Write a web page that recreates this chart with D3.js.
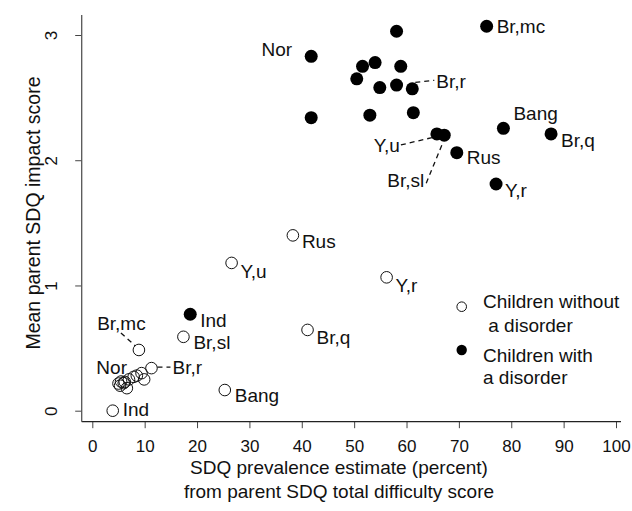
<!DOCTYPE html>
<html><head><meta charset="utf-8">
<script src="https://cdn.jsdelivr.net/npm/d3@7"></script>
<style>body{margin:0;background:#fff}svg{display:block;font-family:"Liberation Sans",Arial,sans-serif}</style>
</head><body><svg id="c" width="632" height="511"></svg>
<script>
// ---- data ----
const withLabels = ["Br,mc","","Nor","","","","","","","Br,r","","","","Y,u","Br,sl","Bang","Br,q","Rus","Y,r","Ind"];
const withX = [75.3,58.1,41.8,51.6,54.0,58.9,50.5,54.9,58.1,61.1,41.8,53.0,61.3,65.8,67.2,78.5,87.6,69.6,77.1,18.7];
const withY = [3.07,3.03,2.83,2.75,2.78,2.75,2.65,2.58,2.60,2.57,2.34,2.36,2.38,2.21,2.20,2.255,2.21,2.06,1.81,0.77];
const withoutLabels = ["Rus","Y,u","Y,r","Br,q","Br,sl","Br,mc","Br,r","Bang","Ind","Nor","","","","","","","","","",""];
const withoutX = [38.3,26.6,56.2,41.1,17.4,8.9,11.3,25.3,3.9,5.0,5.5,6.0,5.3,6.6,7.0,7.9,8.5,9.4,9.9,6.2];
const withoutY = [1.40,1.18,1.065,0.645,0.59,0.485,0.34,0.165,0.0,0.217,0.233,0.22,0.20,0.18,0.25,0.27,0.28,0.30,0.25,0.23];
const xTicks = [0,10,20,30,40,50,60,70,80,90,100];
const yTicks = [0,1,2,3];
const xTitle = ["SDQ prevalence estimate (percent)","from parent SDQ total difficulty score"];
const yTitle = "Mean parent SDQ impact score";
const legendItems = [["Children without"," a disorder"],["Children with","a disorder"]];

// ---- label placement (style) ----
const closedPos = {
  "Br,mc":{dx:10,dy:0},
  "Nor":{dx:-19,dy:-7,a:"end"},
  "Br,r":{dx:24,dy:-8,lead:[3,-6.5,22,-8.5]},
  "Y,u":{dx:-37,dy:11,a:"end",lead:[-36,11,-2,3]},
  "Br,sl":{dx:-20,dy:45,a:"end",lead:[-18,48,-2,9]},
  "Bang":{dx:10,dy:-15},
  "Br,q":{dx:10,dy:6},
  "Rus":{dx:10,dy:5},
  "Y,r":{dx:9,dy:6},
  "Ind":{dx:10,dy:6}
};
const openPos = {
  "Rus":{dx:9,dy:6},"Y,u":{dx:9,dy:8},"Y,r":{dx:9,dy:8},"Br,q":{dx:9,dy:7},
  "Br,sl":{dx:10,dy:6},"Bang":{dx:10,dy:5},"Ind":{dx:10,dy:-1},
  "Br,mc":{dx:-17.5,dy:-27,a:"middle",lead:[-18,-17,-3.5,-4]},
  "Br,r":{dx:21,dy:-1,lead:[6,-1,19,-1]},
  "Nor":{dx:8.5,dy:-16.5,a:"end"}
};

const svg = d3.select("#c");
const x = d3.scaleLinear().domain([0,100]).range([92.3,616]);
const y = d3.scaleLinear().domain([0,3]).range([410.7,35]);
const axX = 421.7, axY = 81.7;

// axes
const gx = svg.append("g").attr("transform",`translate(0,${axX})`)
  .call(d3.axisBottom(x).tickValues(xTicks).tickSize(6.5).tickFormat(d3.format("d")));
gx.select(".domain").remove();
gx.selectAll(".tick line").attr("stroke","#444");
gx.selectAll(".tick text").attr("y",24.3).attr("dy","0.35em").attr("font-size",17)
  .attr("font-family","Liberation Sans, Arial, sans-serif").attr("fill","#111");
svg.append("line").attr("x1",axY).attr("x2",621).attr("y1",axX).attr("y2",axX).attr("stroke","#222").attr("stroke-width",1.2);

const gy = svg.append("g").attr("transform",`translate(${axY},0)`)
  .call(d3.axisLeft(y).tickValues(yTicks).tickSize(6.5).tickFormat(d3.format("d")));
gy.select(".domain").remove();
gy.selectAll(".tick line").attr("stroke","#444");
gy.selectAll(".tick text").attr("x",null).attr("dy",null)
  .attr("transform","translate(-31,0) rotate(-90)").attr("text-anchor","middle").attr("dy","0.35em")
  .attr("font-size",17).attr("font-family","Liberation Sans, Arial, sans-serif").attr("fill","#111");
svg.append("line").attr("x1",axY).attr("x2",axY).attr("y1",15).attr("y2",axX).attr("stroke","#555").attr("stroke-width",1.3);

// titles
svg.append("text").attr("transform","translate(33,213) rotate(-90)").attr("text-anchor","middle")
  .attr("dy","0.35em").attr("font-size",19.5).attr("fill","#111").text(yTitle);
svg.selectAll(".xt").data(xTitle).join("text").attr("x",339).attr("y",(d,i)=>467.5+i*24)
  .attr("text-anchor","middle").attr("dy","0.35em").attr("font-size",19).attr("fill","#111").text(d=>d);

// points
const closed = withX.map((v,i)=>({x:v,y:withY[i],l:withLabels[i]}));
const open = withoutX.map((v,i)=>({x:v,y:withoutY[i],l:withoutLabels[i]}));

function drawLabels(data,pos){
  data.filter(d=>d.l).forEach(d=>{
    const p=pos[d.l]; const px=x(d.x), py=y(d.y);
    if(p.lead){
      svg.append("line").attr("x1",px+p.lead[0]).attr("y1",py+p.lead[1]).attr("x2",px+p.lead[2]).attr("y2",py+p.lead[3])
        .attr("stroke","#111").attr("stroke-width",1.3).attr("stroke-dasharray","5,4");
    }
    svg.append("text").attr("x",px+p.dx).attr("y",py+p.dy).attr("dy","0.35em")
      .attr("text-anchor",p.a||"start").attr("font-size",19).attr("fill","#111").text(d.l);
  });
}

svg.append("g").selectAll("circle").data(open).join("circle")
  .attr("cx",d=>x(d.x)).attr("cy",d=>y(d.y)).attr("r",5.8)
  .attr("fill","none").attr("stroke","#111").attr("stroke-width",1);
svg.append("g").selectAll("circle").data(closed).join("circle")
  .attr("cx",d=>x(d.x)).attr("cy",d=>y(d.y)).attr("r",6.5).attr("fill","#000");
drawLabels(closed,closedPos);
drawLabels(open,openPos);

// legend
const lg = svg.append("g");
lg.append("circle").attr("cx",461.7).attr("cy",306.7).attr("r",4.8).attr("fill","#fff").attr("stroke","#111").attr("stroke-width",1);
lg.append("circle").attr("cx",461.7).attr("cy",350).attr("r",5.2).attr("fill","#000");
const legY = [[301.7,325],[355,377.5]];
legendItems.forEach((lines,i)=>{
  lines.forEach((t,j)=>{
    lg.append("text").attr("x",483).attr("y",legY[i][j]).attr("dy","0.35em").attr("font-size",19)
      .attr("fill","#111").style("white-space","pre").text(t);
  });
});
</script></body></html>
